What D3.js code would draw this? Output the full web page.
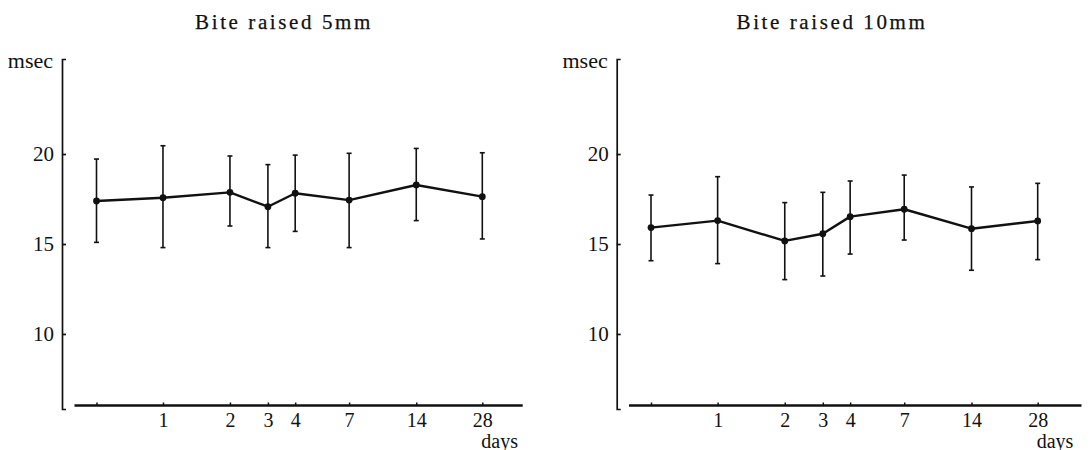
<!DOCTYPE html>
<html><head><meta charset="utf-8">
<script src="https://cdn.jsdelivr.net/npm/d3@7"></script>
<style>
body{margin:0;background:#fff}
svg{display:block}
text{font-family:"Liberation Serif","Times New Roman",serif;fill:#111}
</style>
</head><body><svg id="c" width="1092" height="450"></svg>
<script>
// ---- data ----
const days = [0, 1, 2, 3, 4, 7, 14, 28];
const dayLabels = ["", "1", "2", "3", "4", "7", "14", "28"];
const yTicks = [10, 15, 20];
const titles = ["Bite raised 5mm", "Bite raised 10mm"];
const yUnit = "msec";
const xUnit = "days";
const mean5  = [17.39, 17.57, 17.87, 17.07, 17.82, 17.44, 18.28, 17.63];
const upper5 = [19.72, 20.46, 19.89, 19.41, 19.94, 20.04, 20.31, 20.07];
const lower5 = [15.09, 14.80, 16.00, 14.80, 15.70, 14.80, 16.30, 15.28];
const mean10  = [15.91, 16.30, 15.17, 15.57, 16.52, 16.93, 15.85, 16.28];
const upper10 = [17.72, 18.74, 17.30, 17.87, 18.50, 18.83, 18.17, 18.37];
const lower10 = [14.07, 13.91, 13.02, 13.22, 14.44, 15.22, 13.54, 14.13];

// ---- layout ----
const XFRAC = [0, .1723, .3459, .4443, .515, .6548, .8288, 1]; // hand-drawn tick spacing
const panels = [
  {title: titles[0], mean: mean5, up: upper5, lo: lower5,
   ax: 62, x0: 96.5, span: 385.8, axL: 74.5, axR: 522.7, tx: 284},
  {title: titles[1], mean: mean10, up: upper10, lo: lower10,
   ax: 616.7, x0: 651, span: 386.7, axL: 629, axR: 1081.5, tx: 832}
];
const svg = d3.select("#c");
const INK = "#111";

panels.forEach(p => {
  const g = svg.append("g");
  const y = d3.scaleLinear().domain([5.83, 25.28]).range([409, 59]);
  const x = d3.scaleLinear().domain(days).range(XFRAC.map(f => p.x0 + f * p.span));

  // title
  g.append("text").attr("x", p.tx).attr("y", 29).attr("text-anchor", "middle")
    .attr("font-size", 21).attr("letter-spacing", 2.6).attr("stroke", INK).attr("stroke-width", 0.25)
    .text(p.title);

  // y axis
  const ya = g.append("g").attr("transform", `translate(${p.ax},0)`)
    .call(d3.axisLeft(y).tickValues(yTicks).tickSizeInner(-4).tickSizeOuter(-4).tickPadding(8));
  ya.attr("font-family", null).attr("font-size", null);
  ya.select(".domain").attr("stroke", INK).attr("stroke-width", 1.7);
  ya.selectAll(".tick line").attr("stroke", INK).attr("stroke-width", 1.7);
  ya.selectAll(".tick text").attr("font-size", 21).attr("fill", INK);

  g.append("text").attr("x", p.ax - 9).attr("y", 68).attr("text-anchor", "end")
    .attr("font-size", 22).text(yUnit);

  // x axis
  const xa = g.append("g").attr("transform", "translate(0,405.5)")
    .call(d3.axisBottom(x).tickValues(days).tickFormat((d, i) => dayLabels[i])
      .tickSizeInner(-3).tickSizeOuter(0).tickPadding(7));
  xa.attr("font-family", null).attr("font-size", null);
  xa.select(".domain").remove();
  xa.selectAll(".tick line").attr("stroke", INK).attr("stroke-width", 1.5);
  xa.selectAll(".tick text").attr("font-size", 20).attr("fill", INK);
  g.append("line").attr("x1", p.axL).attr("x2", p.axR).attr("y1", 405.5).attr("y2", 405.5)
    .attr("stroke", INK).attr("stroke-width", 2.3);

  g.append("text").attr("x", x(days[days.length - 1]) - 1).attr("y", 447.5)
    .attr("font-size", 20).text(xUnit);

  // error bars
  const eb = g.append("g").attr("stroke", INK).attr("stroke-width", 1.6);
  days.forEach((d, i) => {
    const cx = x(d);
    eb.append("line").attr("x1", cx).attr("x2", cx).attr("y1", y(p.lo[i])).attr("y2", y(p.up[i]));
    eb.append("line").attr("x1", cx - 2.5).attr("x2", cx + 2.5).attr("y1", y(p.lo[i])).attr("y2", y(p.lo[i]));
    eb.append("line").attr("x1", cx - 2.5).attr("x2", cx + 2.5).attr("y1", y(p.up[i])).attr("y2", y(p.up[i]));
  });

  // mean line
  g.append("path").datum(days.map((d, i) => [d, p.mean[i]]))
    .attr("fill", "none").attr("stroke", INK).attr("stroke-width", 2.4)
    .attr("stroke-linejoin", "round")
    .attr("d", d3.line().x(d => x(d[0])).y(d => y(d[1])));

  g.selectAll("circle.pt").data(days).enter().append("circle")
    .attr("cx", d => x(d)).attr("cy", (d, i) => y(p.mean[i])).attr("r", 3.4).attr("fill", INK);
});
</script>
</body></html>
